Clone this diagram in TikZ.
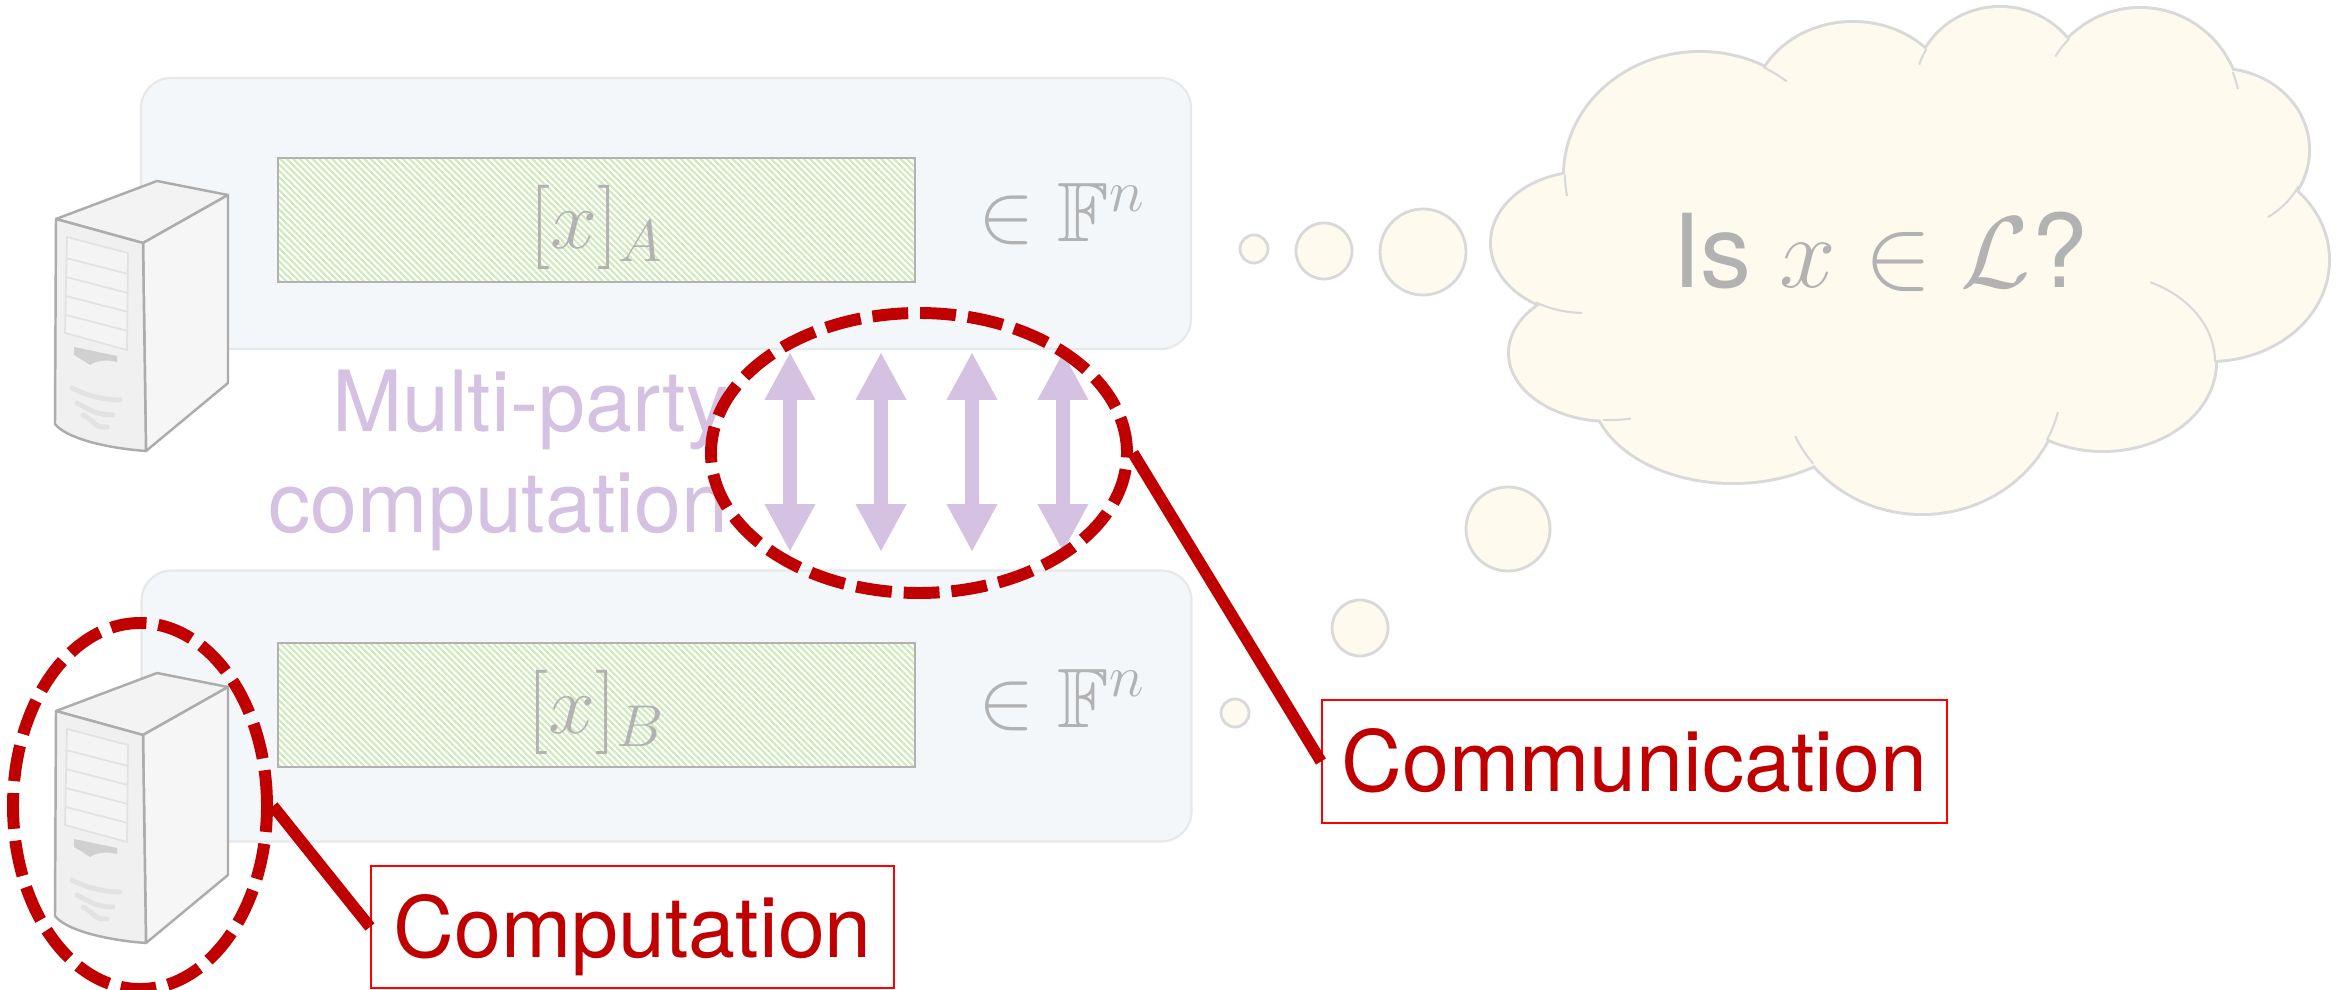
\documentclass[tikz,border=0pt]{standalone}
\usepackage{fix-cm}
\usepackage{amssymb}
\usepackage[no-math]{fontspec}
\setmainfont{TeX Gyre Heros}
\usetikzlibrary{arrows.meta,positioning,shapes.geometric,patterns.meta}
\definecolor{crimson}{RGB}{192,0,0}
\definecolor{signal}{RGB}{255,0,0}
\definecolor{lilac}{RGB}{213,193,226}
\definecolor{mist}{RGB}{244,247,250}
\definecolor{frame}{RGB}{230,232,234}
\definecolor{ash}{RGB}{178,178,178}
\definecolor{sprout}{RGB}{208,234,188}
\definecolor{cream}{RGB}{254,251,238}
\definecolor{fog}{RGB}{217,217,217}
\definecolor{steel}{RGB}{172,172,172}
\definecolor{servfront}{RGB}{240,240,240}
\definecolor{servside}{RGB}{246,246,246}
\definecolor{servtop}{RGB}{243,243,243}
\definecolor{servpanel}{RGB}{244,244,244}
\definecolor{servline}{RGB}{226,226,226}
\definecolor{servslot}{RGB}{208,208,208}
\newcommand{\calloutsize}{\fontsize{24}{29}\selectfont}
\newcommand{\thoughtsize}{\fontsize{29}{35}\selectfont}

\tikzset{
  party/.style={draw=frame,fill=mist,line width=0.6pt,rounded corners=3mm,
    minimum width=105mm,minimum height=27.1mm},
  share/.style={draw=ash,line width=0.6pt,preaction={fill=white},
    pattern={Lines[angle=-45,distance=1.3pt,line width=0.6pt]},pattern color=sprout,
    minimum width=63.7mm,minimum height=12.4mm,text=ash,font=\calloutsize,
    text height=18pt,text depth=1.6pt},
  field/.style={text=ash,font=\calloutsize,inner sep=0pt},
  commarrow/.style={draw=lilac,line width=4pt,
    arrows={Triangle[width=13.4pt,length=13.6pt]-Triangle[width=13.4pt,length=13.6pt]}},
  ring/.style={ellipse,draw=crimson,line width=3.4pt,dash pattern=on 10.2pt off 3.4pt,inner sep=0pt},
  link/.style={draw=crimson,line width=3.3pt},
  tag/.style={draw=signal,line width=0.6pt,text=crimson,font=\calloutsize,inner sep=0pt,
    text height=17.2pt,text depth=0pt},
  server/.pic={
    \filldraw[draw=steel,fill=servtop,line width=0.7pt,line join=round]
      (56,219) -- (157,181) -- (228,195) -- (143,243) -- cycle;
    \filldraw[draw=steel,fill=servside,line width=0.7pt,line join=round]
      (143,243) -- (228,195) -- (228,383) -- (146,451) -- cycle;
    \filldraw[draw=steel,fill=servfront,line width=0.7pt,line join=round]
      (56,219) -- (143,243) -- (146,451) .. controls (105,448) and (66,438) .. (55,424) -- cycle;
    \filldraw[draw=servline,fill=servpanel,line width=0.5pt]
      (67,237) -- (128,253) -- (127,350) -- (65,333) -- cycle;
    \foreach \y in {258,277,296,315}
      \draw[servline,line width=0.5pt] (66,\y) -- (128,\y+16);
    \fill[servslot] (74,347) -- (117,356) -- (117,362) .. controls (105,359) and (96,361) .. (90,365)
      .. controls (84,361) .. (74,355) -- cycle;
    \foreach \a/\b/\s in {72/120/388,77/113/403,83/107/415}
      \draw[servline,line width=1.4pt,line cap=round] (\a,\s) .. controls (\a+15,\s+8) and (\b-15,\s+12) .. (\b,\s+12);
  }
}

\begin{document}
\begin{tikzpicture}[x=0.1mm,y=-0.1mm]
  \useasboundingbox (0,0) rectangle (2343,990);
  \fill[white] (0,0) rectangle (2343,990);

  \node[party] (partyA) at (666,213.5) {};
  \node[party] (partyB) at (666.5,706) {};
  \node[share] (shareA) at (596.5,220) {$[x]_A$};
  \node[share] (shareB) at (596.5,705) {$[x]_B$};
  \node[field,anchor=base] (fieldA) at (1062,242) {$\in\mathbb{F}^n$};
  \node[field,anchor=base] (fieldB) at (1062,727) {$\in\mathbb{F}^n$};

  \pic at (0,0) {server};
  \pic at (0,492) {server};

  \node[anchor=base east,align=right,text=lilac,font=\calloutsize,inner sep=0pt] (mpc) at (729,533)
    {Multi-party\\computation};

  \foreach \x [count=\i] in {790,881,972,1063} {
    \coordinate (up\i) at (\x,352);
    \coordinate (dn\i) at (\x,552);
    \draw[commarrow] (up\i) -- (dn\i);
  }

  \foreach \cx/\cy/\rx/\ry in {1700/175/135/122,1853/110/100/87,2000/90/85/82,2140/110/100/101,
      2220/150/88/80,2210/260/118/100,2103/362/112/88,1922/380/140/133,1733/390/140/92,
      1610/353/100/67,1585/243/93/70}
    \draw[fog,line width=1.7pt] (\cx,\cy) ellipse [x radius=\rx,y radius=\ry];
  \foreach \cx/\cy/\rx/\ry in {1700/175/135/122,1853/110/100/87,2000/90/85/82,2140/110/100/101,
      2220/150/88/80,2210/260/118/100,2103/362/112/88,1922/380/140/133,1733/390/140/92,
      1610/353/100/67,1585/243/93/70,1910/265/300/150}
    \fill[cream] (\cx,\cy) ellipse [x radius=\rx,y radius=\ry];
  \foreach \cx/\cy/\rx/\ry/\a/\b in {1700/175/135/122/180/170,1700/175/135/122/-62/-50,
      1585/243/93/70/122/92,1610/353/100/67/94/78,1922/380/140/133/141/155,
      1922/380/140/133/27/14,2103/362/112/88/0/-65,2220/150/88/80/27/57,
      2140/110/100/101/-22/-12,2140/110/100/101/225/212,2000/90/85/82/210/198}
    \draw[fog,line width=0.6pt] ({\cx+\rx*cos(\a)},{\cy+\ry*sin(\a)})
      arc[start angle=\a,end angle=\b,x radius=\rx,y radius=\ry];
  \foreach \x/\y/\r in {1254/249/14,1324/251/28,1423/252/43,1508/529/42,1360/628/28,1235/713/14}
    \draw[fog,fill=cream,line width=0.8pt] (\x,\y) circle[radius=\r];
  \node[text=ash,font=\thoughtsize,anchor=base,inner sep=0pt] (query) at (1880,288) {Is $x\in\mathcal{L}$?};

  \node[ring,minimum width=41.6mm,minimum height=28mm] (commring) at (919,453) {};
  \node[ring,minimum width=25.4mm,minimum height=36.6mm] (compring) at (140,806) {};
  \node[tag,minimum width=62.5mm,minimum height=12.3mm] (commtag) at (1634.5,761.5) {Communication};
  \node[tag,minimum width=52.3mm,minimum height=12.2mm] (comptag) at (632.5,927) {Computation};
  \draw[link] (commring.east) -- (commtag.west);
  \draw[link] (compring.east) -- (comptag.west);
\end{tikzpicture}
\end{document}
